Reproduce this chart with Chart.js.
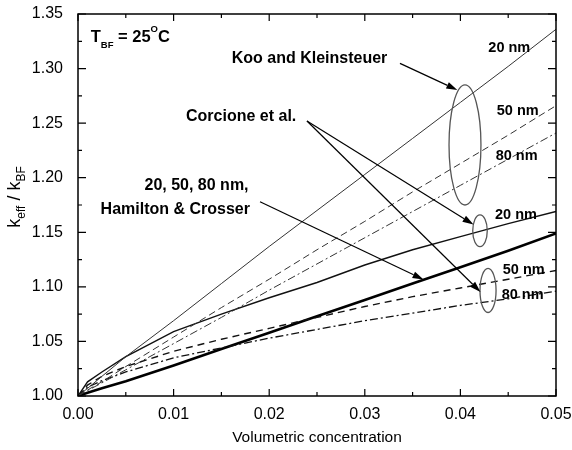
<!DOCTYPE html>
<html>
<head>
<meta charset="utf-8">
<script src="https://cdn.jsdelivr.net/npm/chart.js@4.4.1/dist/chart.umd.min.js"></script>
<style>
html,body{margin:0;padding:0;background:#fff;}
#wrap{width:572px;height:450px;}
</style>
</head>
<body>
<div id="wrap"><canvas id="c" width="572" height="450"></canvas></div>
<script>
// ---- data ----
const xs   = [0, 0.001, 0.0025, 0.005, 0.01, 0.015, 0.02, 0.025, 0.03, 0.035, 0.04, 0.045, 0.05];
const kk20 = [1, 1.007, 1.018, 1.036, 1.069, 1.103, 1.137, 1.170, 1.203, 1.236, 1.269, 1.302, 1.336];
const kk50 = [1, 1.0055, 1.013, 1.027, 1.054, 1.081, 1.107, 1.134, 1.160, 1.187, 1.213, 1.239, 1.266];
const kk80 = [1, 1.005, 1.012, 1.024, 1.048, 1.072, 1.097, 1.121, 1.145, 1.169, 1.193, 1.217, 1.241];
const co20 = [1, 1.013, 1.022, 1.036, 1.059, 1.075, 1.090, 1.104, 1.120, 1.134, 1.146, 1.158, 1.169];
const co50 = [1, 1.010, 1.018, 1.027, 1.041, 1.052, 1.062, 1.072, 1.082, 1.091, 1.099, 1.107, 1.115];
const co80 = [1, 1.008, 1.014, 1.022, 1.035, 1.044, 1.053, 1.061, 1.069, 1.076, 1.083, 1.089, 1.096];
const hc   = [1, 1.003, 1.007, 1.0135, 1.028, 1.043, 1.058, 1.073, 1.088, 1.103, 1.118, 1.133, 1.149];
const xTicks = [0, 0.01, 0.02, 0.03, 0.04, 0.05];
const yTicks = [1.00, 1.05, 1.10, 1.15, 1.20, 1.25, 1.30, 1.35];
const xTitle = 'Volumetric concentration';

const FONT = '"Liberation Sans", Arial, sans-serif';
const pts = arr => arr.map((v, i) => ({x: xs[i], y: v}));

function ds(label, arr, color, width, dash) {
  return {label, data: pts(arr), borderColor: color, borderWidth: width, borderDash: dash,
          pointRadius: 0, tension: 0, fill: false};
}

const deco = {
  id: 'deco',
  afterDraw(chart) {
    const ctx = chart.ctx, a = chart.chartArea;
    const X = v => chart.scales.x.getPixelForValue(v);
    const Y = v => chart.scales.y.getPixelForValue(v);
    ctx.save();
    // frame
    ctx.strokeStyle = '#000'; ctx.lineWidth = 1.5;
    ctx.strokeRect(a.left, a.top, a.right - a.left, a.bottom - a.top);
    // ticks inward on all sides
    ctx.lineWidth = 1.2;
    ctx.beginPath();
    for (let i = 0; i <= 10; i++) {
      const v = i * 0.005, px = X(v), L = (i % 2 === 0) ? 7 : 4;
      ctx.moveTo(px, a.bottom); ctx.lineTo(px, a.bottom - L);
      ctx.moveTo(px, a.top); ctx.lineTo(px, a.top + L);
    }
    for (let i = 0; i <= 14; i++) {
      const v = 1 + i * 0.025, py = Y(v), L = (i % 2 === 0) ? 8 : 4;
      ctx.moveTo(a.left, py); ctx.lineTo(a.left + L, py);
      ctx.moveTo(a.right, py); ctx.lineTo(a.right - L, py);
    }
    ctx.stroke();

    // y title: k_eff / k_BF (rotated)
    ctx.save();
    ctx.translate(20, 197);
    ctx.rotate(-Math.PI / 2);
    ctx.fillStyle = '#000';
    ctx.textBaseline = 'alphabetic';
    const parts = [['k', 18, 0], ['eff', 12, 5], [' / ', 18, 0], ['k', 18, 0], ['BF', 12, 5]];
    let tot = 0;
    parts.forEach(p => { ctx.font = p[1] + 'px ' + FONT; tot += ctx.measureText(p[0]).width; });
    let cx = -tot / 2;
    parts.forEach(p => { ctx.font = p[1] + 'px ' + FONT; ctx.fillText(p[0], cx, p[2]); cx += ctx.measureText(p[0]).width; });
    ctx.restore();

    // T_BF = 25 °C
    ctx.fillStyle = '#000'; ctx.textBaseline = 'alphabetic'; ctx.textAlign = 'left';
    let tx = X(0.00133); const ty = Y(1.3246);
    const tp = [['T', 16.5, 0], ['BF', 9.5, 6.5], [' = 25', 16.5, 0], ['O', 9.5, -10], ['C', 16.5, 0]];
    tp.forEach(p => { ctx.font = 'bold ' + p[1] + 'px ' + FONT; ctx.fillText(p[0], tx, ty + p[2]); tx += ctx.measureText(p[0]).width; });

    // labels
    ctx.font = 'bold 16px ' + FONT;
    ctx.textAlign = 'left';
    ctx.fillText('Koo and Kleinsteuer', X(0.01608), Y(1.3051));
    ctx.fillText('Corcione et al.', X(0.0113), Y(1.2522));
    ctx.textAlign = 'right';
    ctx.fillText('20, 50, 80 nm,', X(0.01784), Y(1.1887));
    ctx.fillText('Hamilton & Crosser', X(0.01799), Y(1.1668));
    ctx.textAlign = 'left';
    ctx.font = 'bold 14.5px ' + FONT;
    const lab = [['20 nm', 0.04292, 1.3155], ['50 nm', 0.0438, 1.2575], ['80 nm', 0.04369, 1.2162],
                 ['20 nm', 0.04362, 1.1619], ['50 nm', 0.04443, 1.1118], ['80 nm', 0.04432, 1.0889]];
    lab.forEach(l => ctx.fillText(l[0], X(l[1]), Y(l[2])));

    // ellipses
    ctx.strokeStyle = '#555'; ctx.lineWidth = 1.3;
    const ell = [[0.04048, 1.2300, 0.00167, 0.055], [0.04205, 1.1514, 0.00076, 0.01448], [0.04289, 1.0967, 0.00084, 0.0202]];
    ell.forEach(e => {
      const cxp = X(e[0]), cyp = Y(e[1]);
      const rx = Math.abs(X(e[0] + e[2]) - cxp), ry = Math.abs(Y(e[1] + e[3]) - cyp);
      ctx.beginPath(); ctx.ellipse(cxp, cyp, rx, ry, 0, 0, Math.PI * 2); ctx.stroke();
    });

    // arrows
    function arrow(x0, y0, x1, y1) {
      const p0x = X(x0), p0y = Y(y0), p1x = X(x1), p1y = Y(y1);
      const ang = Math.atan2(p1y - p0y, p1x - p0x), L = 11, W = 3.5;
      const bx = p1x - L * Math.cos(ang), by = p1y - L * Math.sin(ang);
      ctx.strokeStyle = '#000'; ctx.lineWidth = 1.2;
      ctx.beginPath(); ctx.moveTo(p0x, p0y); ctx.lineTo(bx, by); ctx.stroke();
      ctx.fillStyle = '#000';
      ctx.beginPath();
      ctx.moveTo(p1x, p1y);
      ctx.lineTo(bx + W * Math.sin(ang), by - W * Math.cos(ang));
      ctx.lineTo(bx - W * Math.sin(ang), by + W * Math.cos(ang));
      ctx.closePath(); ctx.fill();
    }
    arrow(0.03368, 1.3048, 0.03968, 1.2804);
    arrow(0.02395, 1.2520, 0.04137, 1.1571);
    arrow(0.02395, 1.2520, 0.0421, 1.0953);
    arrow(0.01904, 1.1780, 0.03614, 1.1067);
    ctx.restore();
  }
};

new Chart(document.getElementById('c'), {
  type: 'line',
  data: {
    datasets: [
      ds('Koo and Kleinsteuer 20 nm', kk20, '#333', 1, []),
      ds('Koo and Kleinsteuer 50 nm', kk50, '#333', 1, [7, 4]),
      ds('Koo and Kleinsteuer 80 nm', kk80, '#333', 1, [8, 3, 2, 3]),
      ds('Corcione et al. 20 nm', co20, '#111', 1.4, []),
      ds('Corcione et al. 50 nm', co50, '#111', 1.4, [7, 5]),
      ds('Corcione et al. 80 nm', co80, '#111', 1.3, [8, 3, 2, 3]),
      ds('Hamilton & Crosser', hc, '#000', 2.6, [])
    ]
  },
  options: {
    responsive: false,
    devicePixelRatio: 1,
    animation: false,
    layout: {padding: {top: 14, right: 16, left: 0, bottom: 0}},
    plugins: {legend: {display: false}, tooltip: {enabled: false}},
    scales: {
      x: {
        type: 'linear', min: 0, max: 0.05,
        grid: {display: false}, border: {display: false},
        afterFit(s) { s.height = 54; s.paddingLeft = 0; s.paddingRight = 0; },
        afterBuildTicks(s) { s.ticks = xTicks.map(v => ({value: v})); },
        ticks: {padding: 1, color: '#000', font: {family: FONT, size: 16},
                callback: v => Number(v).toFixed(2), maxRotation: 0, autoSkip: false},
        title: {display: true, text: xTitle, color: '#000', font: {family: FONT, size: 15.5}, padding: {top: 0, bottom: 3}}
      },
      y: {
        type: 'linear', min: 1.0, max: 1.35,
        grid: {display: false}, border: {display: false},
        afterFit(s) { s.width = 78; s.paddingTop = 0; s.paddingBottom = 0; },
        afterBuildTicks(s) { s.ticks = yTicks.map(v => ({value: v})); },
        ticks: {padding: 7, color: '#000', font: {family: FONT, size: 16},
                callback: v => Number(v).toFixed(2), autoSkip: false}
      }
    }
  },
  plugins: [deco]
});
</script>
</body>
</html>
